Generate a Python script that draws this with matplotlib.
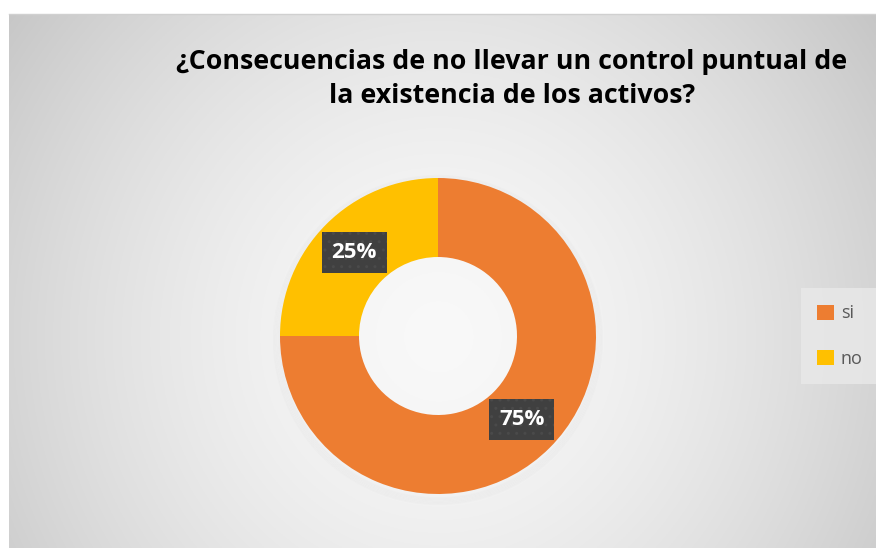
import numpy as np
import matplotlib.pyplot as plt
from matplotlib.patches import Patch, Circle

# data
labels = ['si', 'no']
values = [75, 25]
colors = ['#ED7D31', '#FFC000']
title = '¿Consecuencias de no llevar un control puntual de\nla existencia de los activos?'

W, H = 876, 548
fig = plt.figure(figsize=(W / 100, H / 100), dpi=100)
fig.patch.set_facecolor('white')

# radial gradient background of the chart area
bg = fig.add_axes([9 / W, 0, (W - 9) / W, (H - 14) / H])
yy, xx = np.mgrid[0:300, 0:500]
cx, cy = 429 / 867 * 500, 322 / 534 * 300
d = np.sqrt(((xx - cx) / 250) ** 2 + ((yy - cy) / 250) ** 2)
g = 0.975 - np.clip(d, 0, 1.3) ** 1.6 * 0.14
bg.imshow(np.dstack([g, g, g]), aspect='auto', extent=[0, 1, 0, 1], origin='upper')
bg.set_axis_off()
fig.add_artist(plt.Line2D([9 / W, 1], [(H - 14) / H] * 2, color='#d0d0d0', lw=1))

# donut
R = 158
ax = fig.add_axes([(438 - R) / W, (H - 336 - R) / H, 2 * R / W, 2 * R / H])

wedges, texts, autotexts = ax.pie(values, colors=colors, startangle=90,
                                  counterclock=False, radius=1,
                                  wedgeprops=dict(width=0.5, lw=0),
                                  autopct='%1.0f%%', pctdistance=0.75)
ax.set_xlim(-1, 1)
ax.set_ylim(-1, 1)
ax.set_axis_off()

# soft shadow just outside the ring, a bit lower
for i in range(6):
    ax.add_patch(Circle((0.0, -0.025), 1.0 + 0.008 * i, fill=False, color='black',
                        alpha=0.012, lw=1.2, zorder=0, clip_on=False))

for t in autotexts:
    t.set_color('white')
    t.set_fontsize(16)
    t.set_fontweight('bold')
    t.set_fontfamily('Open Sans')
    t.set_bbox(dict(boxstyle='square,pad=0.45', facecolor='#404040',
                    edgecolor='#4a4a4a', linewidth=0, hatch='..'))

fig.text(512 / W, 1 - 79 / H, title, ha='center', va='center',
         fontsize=19.3, fontweight='bold', family='Open Sans',
         linespacing=1.4, color='black')

handles = [Patch(facecolor=c, edgecolor='none') for c in colors]
leg = fig.legend(handles, labels, loc='center', bbox_to_anchor=(840 / W, 1 - 336 / H),
                 frameon=True, handlelength=0.9, handleheight=0.9,
                 handletextpad=0.4, labelspacing=1.5, borderpad=0.9,
                 fancybox=False, prop={'family': 'Open Sans', 'size': 13})
leg.get_frame().set_facecolor('#e9e9e9')
leg.get_frame().set_edgecolor('none')
for t in leg.get_texts():
    t.set_color('#595959')

fig.savefig('out.png', dpi=100)
